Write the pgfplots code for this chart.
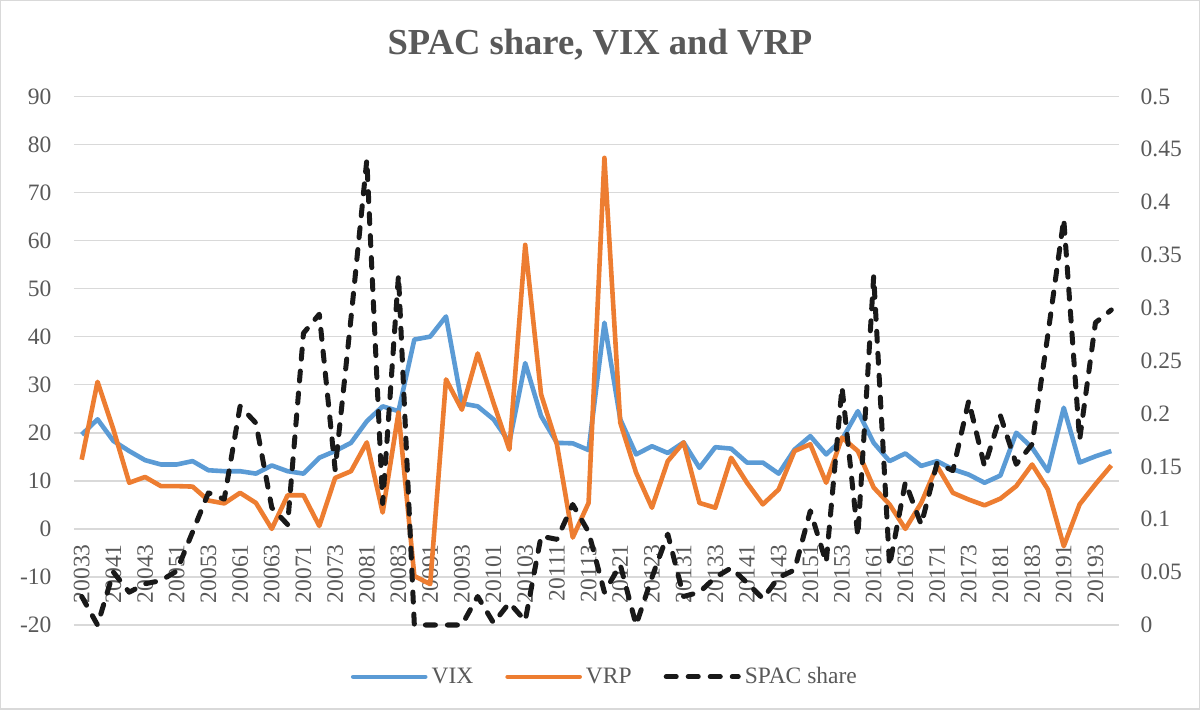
\documentclass[border=0pt]{standalone}
\usepackage{fontspec}
\setmainfont{Liberation Serif}
\usepackage{pgfplots}
\pgfplotsset{compat=1.18}
\usepackage{pgfplotstable}
\definecolor{vixblue}{HTML}{5B9BD5}
\definecolor{vrporange}{HTML}{ED7D31}
\definecolor{gridgray}{HTML}{D9D9D9}
\definecolor{txtgray}{HTML}{595959}

\pgfplotstableread{
i q vix vrp spac
0 20033 19.6 14.4 0.027
1 20034 22.8 30.6 0.000
2 20041 18.3 20.7 0.050
3 20042 16.2 9.6 0.031
4 20043 14.3 10.8 0.039
5 20044 13.4 8.9 0.042
6 20051 13.4 8.9 0.051
7 20052 14.1 8.8 0.088
8 20053 12.2 5.9 0.125
9 20054 12.0 5.3 0.119
10 20061 12.0 7.5 0.207
11 20062 11.5 5.4 0.191
12 20063 13.2 0.0 0.111
13 20064 12.0 7.0 0.095
14 20071 11.5 7.0 0.276
15 20072 14.8 0.6 0.294
16 20073 16.2 10.6 0.147
17 20074 17.9 12.0 0.290
18 20081 22.4 18.0 0.440
19 20082 25.5 3.4 0.115
20 20083 24.5 24.2 0.331
21 20084 39.4 -9.8 0.000
22 20091 40.0 -11.5 0.000
23 20092 44.2 31.1 0.000
24 20093 26.1 24.8 0.000
25 20094 25.5 36.5 0.027
26 20101 22.8 26.2 0.002
27 20102 18.0 16.5 0.021
28 20103 34.5 59.1 0.004
29 20104 23.5 28.0 0.084
30 20111 17.9 17.6 0.081
31 20112 17.8 -1.8 0.114
32 20113 16.4 5.4 0.088
33 20114 42.9 77.2 0.031
34 20121 22.8 22.1 0.057
35 20122 15.5 11.7 0.000
36 20123 17.2 4.4 0.045
37 20124 15.8 14.1 0.086
38 20131 18.0 18.0 0.027
39 20132 12.7 5.4 0.031
40 20133 17.0 4.4 0.045
41 20134 16.7 14.8 0.054
42 20141 13.8 9.6 0.040
43 20142 13.8 5.1 0.025
44 20143 11.5 8.2 0.045
45 20144 16.5 16.2 0.052
46 20151 19.3 17.6 0.108
47 20152 15.5 9.6 0.059
48 20153 18.6 19.0 0.225
49 20154 24.5 16.2 0.084
50 20161 17.9 8.6 0.330
51 20162 14.1 5.1 0.056
52 20163 15.7 0.0 0.135
53 20164 13.1 5.4 0.095
54 20171 14.1 13.1 0.153
55 20172 12.4 7.5 0.146
56 20173 11.3 6.1 0.212
57 20174 9.6 4.9 0.150
58 20181 11.1 6.3 0.198
59 20182 20.0 8.9 0.152
60 20183 16.9 13.4 0.171
61 20184 12.0 8.2 0.275
62 20191 25.2 -3.6 0.384
63 20192 13.8 5.1 0.175
64 20193 15.1 9.3 0.286
65 20194 16.2 13.2 0.298
}\datatable

\newcommand{\tickfont}{\fontsize{11.75}{14}\selectfont}

\begin{document}
\begin{tikzpicture}
\draw[gridgray, line width=0.75pt] (0.5pt,0.5pt) rectangle (599.5pt,354.5pt);
\node[font=\fontsize{18.3}{22}\selectfont\bfseries, text=txtgray] at (300pt,332.5pt) {SPAC share, VIX and VRP};
\begin{axis}[
  at={(37pt,42.5pt)}, anchor=south west,
  scale only axis, width=522.5pt, height=264.2pt,
  xmin=-0.5, xmax=65.5, ymin=-20, ymax=90,
  axis x line=middle, axis y line=left,
  axis line style={draw=none},
  hide obscured x ticks=false, hide obscured y ticks=false,
  major tick length=0pt,
  ytick={-20,-10,0,10,20,30,40,50,60,70,80,90},
  yticklabels={-20,-10,0,10,20,30,40,50,60,70,80,90},
  ymajorgrids, grid style={gridgray, line width=0.75pt},
  xtick={0,2,...,64},
  xticklabels={20033,20041,20043,20051,20053,20061,20063,20071,20073,20081,20083,20091,20093,20101,20103,20111,20113,20121,20123,20131,20133,20141,20143,20151,20153,20161,20163,20171,20173,20181,20183,20191,20193},
  tick label style={font=\tickfont, text=txtgray},
  xticklabel style={rotate=90, anchor=east, inner ysep=0pt, inner xsep=7.5pt},
  yticklabel style={anchor=east, inner sep=0pt, xshift=-11pt},
  clip=false,
]
\addplot[vixblue, line width=2.3pt, line join=round] table[x=i,y=vix]{\datatable};
\addplot[vrporange, line width=2.3pt, line join=round] table[x=i,y=vrp]{\datatable};
\end{axis}
\begin{axis}[
  at={(37pt,42.5pt)}, anchor=south west,
  scale only axis, width=522.5pt, height=264.2pt,
  xmin=-0.5, xmax=65.5, ymin=0, ymax=0.5,
  axis x line=none, axis y line*=right,
  axis line style={draw=none},
  major tick length=0pt,
  ytick={0,0.05,0.1,0.15,0.2,0.25,0.3,0.35,0.4,0.45,0.5},
  yticklabels={0,0.05,0.1,0.15,0.2,0.25,0.3,0.35,0.4,0.45,0.5},
  tick label style={font=\tickfont, text=txtgray},
  yticklabel style={anchor=west, inner sep=0pt, xshift=10.5pt},
  clip=false,
  legend style={at={(0.509,-0.098)}, anchor=center, draw=none, fill=none,
    font=\tickfont, text=txtgray, legend columns=-1,
    /tikz/every even column/.append style={column sep=14pt},
    nodes={inner sep=2pt}},
  legend image code/.code={\draw[#1] (0pt,0pt) -- (36pt,0pt);},
]
\addlegendimage{vixblue, line width=2.3pt, line cap=round}
\addlegendentry{VIX}
\addlegendimage{vrporange, line width=2.3pt, line cap=round}
\addlegendentry{VRP}
\addplot[black!90, line width=2.5pt, dash pattern=on 5pt off 6pt, line cap=round, line join=round] table[x=i,y=spac]{\datatable};
\addlegendentry{SPAC share}
\end{axis}
\end{tikzpicture}
\end{document}
